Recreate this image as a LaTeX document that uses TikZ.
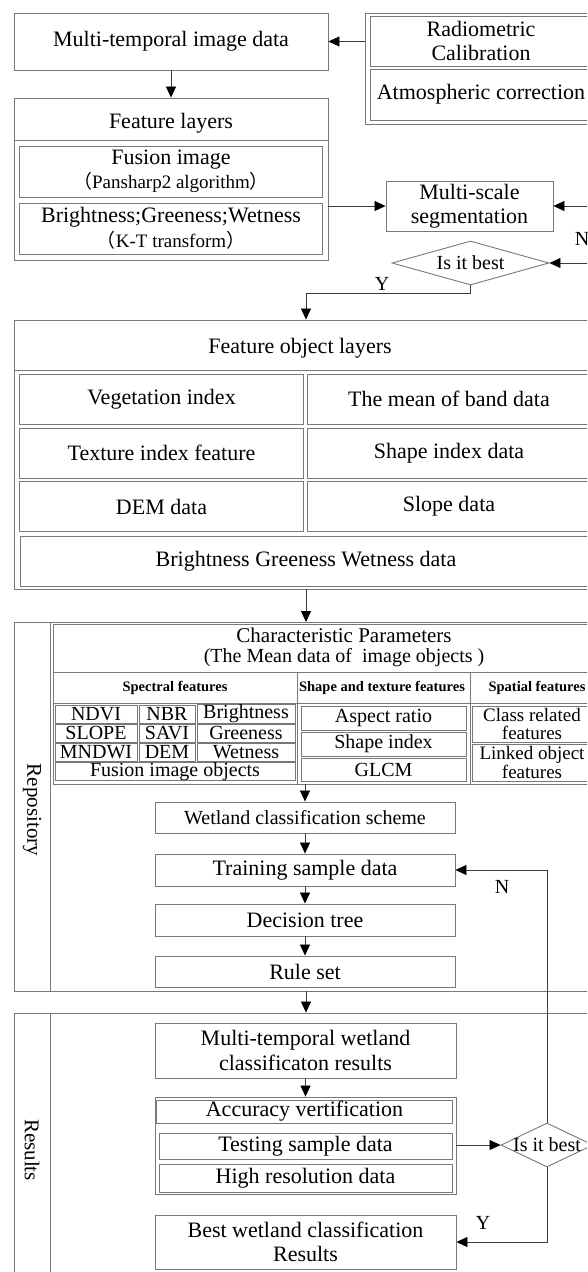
\documentclass[tikz,border=0pt]{standalone}
\usepackage{fontspec}
\setmainfont{Liberation Serif}
\newfontfamily\cjk{Noto Sans CJK SC}
\usetikzlibrary{arrows.meta,shapes.geometric}
\definecolor{boxgray}{RGB}{120,120,120}
\definecolor{linegray}{RGB}{60,60,60}
\newcommand{\fsz}[1]{\fontsize{#1}{#1}\selectfont}
\tikzset{
  box/.style={draw=boxgray,line width=0.9pt,inner sep=0pt,align=center,font=\fontsize{22}{24.5}\selectfont},
  wh/.style 2 args={minimum width=#1pt,minimum height=#2pt},
  cell/.style={box,font=\fontsize{20}{17}\selectfont},
  hdr/.style={inner sep=0pt,font=\bfseries\fsz{14.5}},
  txt/.style={inner sep=0pt,align=center,font=\fsz{22}},
  lbl/.style={inner sep=0pt,font=\fsz{20}},
  dia/.style={box,diamond,aspect=2,font=\fsz{20}},
  bline/.style={draw=boxgray,line width=0.9pt},
  arr/.style={draw=linegray,line width=0.8pt,-{Triangle[length=11pt,width=10pt,color=black]}}
}
\begin{document}
\begin{tikzpicture}[x=1pt,y=-1pt]
\clip (0,0) rectangle (587,1272);
\fill[white] (0,0) rectangle (587,1272);
% input and preprocessing
\node[box,wh={314}{57}] (mtid) at (171,41.5) {Multi-temporal image data};
\node[box,wh={231}{111}] (radio) at (480.5,68.5) {};
\node[box,wh={222}{50}] (rc) at (481,41) {Radiometric\\Calibration};
\node[box,wh={222}{51}] (ac) at (481,94.5) {Atmospheric correction};
\draw[arr] (radio.west |- mtid.east) -- (mtid.east);
\node[box,wh={314}{162}] (fl) at (171,179) {};
\node[txt] (flt) at (171,123) {Feature layers};
\draw[bline] ([yshift=-43pt]fl.north west) -- ([yshift=-43pt]fl.north east);
\node[box,wh={303}{51}] (fus) at (171,171.5) {Fusion image\\{\fsz{19}{\cjk （}Pansharp2 algorithm{\cjk ）}}};
\node[box,wh={303}{51}] (kt) at (171,228.5) {Brightness;Greeness;Wetness\\{\fsz{19}{\cjk （}K-T transform{\cjk ）}}};
\draw[arr] (mtid) -- (fl);
% segmentation loop
\node[box,wh={167}{50}] (mss) at (469.5,206) {Multi-scale\\segmentation};
\draw[arr] (fl.east |- mss.west) -- (mss.west);
\coordinate (nin) at (600,206);
\draw[arr] (nin) -- (mss.east);
\node[lbl] (n1) at (582,239) {N};
\node[dia,wh={157}{44}] (best1) at (470.5,263) {\makebox[0pt]{Is it best}};
\coordinate (bin) at (600,263);
\draw[arr] (bin) -- (best1.east);
\node[lbl] (y1) at (382,284) {Y};
% object layers
\node[box,wh={584}{269}] (fol) at (306,454.5) {};
\node[txt] (folt) at (300,348) {Feature object layers};
\draw[bline] ([yshift=-51pt]fol.north west) -- ([yshift=-51pt]fol.north east);
\foreach \nm/\tx/\cx/\cy in {veg/Vegetation index/161.5/399, band/The mean of band data/449/399,
  tex/Texture index feature/161.5/453, shp/Shape index data/449/453,
  dem/DEM data/161.5/506.5, slp/Slope data/449/506.5}
  \node[box,wh={284}{50}] (\nm) at (\cx,\cy) {\tx};
\node[box,wh={572}{50}] (bgw) at (306,561) {Brightness Greeness Wetness data};
\draw[arr] (best1.south) -- ++(0,8) -| (fol.north);
\draw[arr] (fol) -- (306,622);
% repository
\node[box,wh={584}{369}] (repo) at (306,806.5) {};
\draw[bline] ([xshift=37pt]repo.north west) -- ([xshift=37pt]repo.south west);
\node[txt,rotate=-90,font=\fsz{21}] (repot) at (32,810) {Repository};
\node[box,wh={587}{160}] (cp) at (346.5,704) {};
\node[txt,font=\fsz{21}] (cpt1) at (344,635) {Characteristic Parameters};
\node[txt,font=\fsz{20}] (cpt2) at (344,658) {(The Mean data of\ \ image objects\ )};
\draw[bline] (cp.west |- 0,672) -- (cp.east |- 0,672);
\draw[bline] (cp.west |- 0,703) -- (cp.east |- 0,703);
\draw[bline] (297,672) -- (297,784);
\draw[bline] (470,672) -- (470,784);
\node[hdr] (hspec) at (175,688) {Spectral features};
\node[hdr] (hshape) at (382,688) {Shape and texture features};
\node[hdr] (hspat) at (537,688) {Spatial features};
\foreach \nm/\tx/\cx/\cy/\w in {ndvi/NDVI/96/714/82, nbr/NBR/167/714/56, bri/Brightness/246/714/98,
  slope/SLOPE/96/733/82, savi/SAVI/167/733/56, gre/Greeness/246/733/98,
  mndwi/MNDWI/96/752/82, dem2/DEM/167/752/56, wet/Wetness/246/752/98}
  \node[cell,wh={\w}{18}] (\nm) at (\cx,\cy) {\tx};
\node[cell,wh={240}{18}] (fio) at (175,771.5) {Fusion image objects};
\node[cell,wh={165}{24}] (asp) at (383.5,718) {Aspect ratio};
\node[cell,wh={165}{24}] (shi) at (383.5,744) {Shape index};
\node[cell,wh={165}{23}] (glcm) at (383.5,769.5) {GLCM};
\node[cell,wh={120}{36},font=\fontsize{19}{18.5}\selectfont] (crf) at (532,724) {Class related\\features};
\node[cell,wh={120}{37},font=\fontsize{19}{18.5}\selectfont] (lof) at (532,762.5) {Linked object\\features};
\node[box,wh={300}{31},font=\fsz{20}] (wcs) at (305,817.5) {Wetland classification scheme};
\draw[arr] (cp.south -| wcs.north) -- (wcs.north);
\node[box,wh={300}{32}] (tsd) at (305,870) {Training sample data};
\node[box,wh={300}{32}] (dt) at (305,920) {Decision tree};
\node[box,wh={300}{31}] (rs) at (305,971.5) {Rule set};
\draw[arr] (wcs) -- (tsd);
\draw[arr] (tsd) -- (dt);
\draw[arr] (dt) -- (rs);
% results
\node[box,wh={584}{287}] (res) at (306,1156.5) {};
\draw[arr] (repo) -- (res);
\draw[bline] ([xshift=37pt]res.north west) -- ([xshift=37pt]res.south west);
\node[txt,rotate=-90,font=\fsz{21}] (rest) at (32,1150) {Results};
\node[box,wh={301}{55}] (mtw) at (305.5,1050.5) {Multi-temporal wetland\\classificaton results};
\node[box,wh={301}{97}] (acc) at (305.5,1145.5) {};
\node[box,wh={296}{23}] (av) at (304.5,1111.5) {Accuracy vertification};
\node[box,wh={293}{26}] (tsd2) at (305.5,1146) {Testing sample data};
\node[box,wh={293}{28}] (hrd) at (305.5,1178) {High resolution data};
\draw[arr] (mtw) -- (acc);
\node[dia,wh={92}{44}] (best2) at (547,1145) {\makebox[0pt]{Is it best}};
\draw[arr] (acc.east |- best2.west) -- (best2.west);
\draw[arr] (best2.north) -- (best2.north |- tsd.east) -- (tsd.east);
\node[lbl] (n2) at (502,887) {N};
\node[box,wh={301}{54}] (bwc) at (305.5,1242) {Best wetland classification\\Results};
\draw[arr] (best2.south) -- (best2.south |- bwc.east) -- (bwc.east);
\node[lbl] (y2) at (483,1223) {Y};
\end{tikzpicture}
\end{document}
